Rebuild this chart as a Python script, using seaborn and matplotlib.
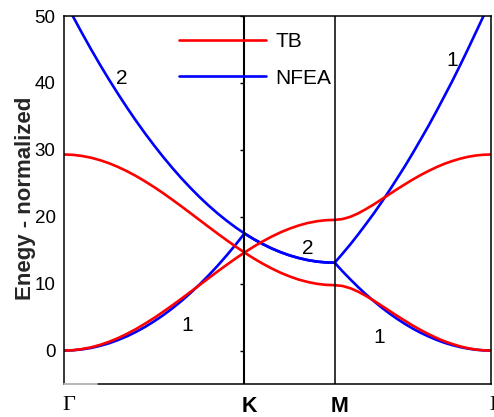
import numpy as np
import pandas as pd
import matplotlib
matplotlib.use("Agg")
import matplotlib.pyplot as plt
import seaborn as sns
from matplotlib.lines import Line2D
from matplotlib.transforms import ScaledTranslation

# path coordinate along G-K-M-G (G-K = 1)
k_path = [0.00, 0.05, 0.10, 0.15, 0.20, 0.25, 0.30, 0.35, 0.40, 0.45, 0.50,
          0.55, 0.60, 0.65, 0.70, 0.75, 0.80, 0.85, 0.90, 0.95, 1.00,
          1.05, 1.10, 1.15, 1.20, 1.25, 1.30, 1.35, 1.40, 1.45, 1.50,
          1.543, 1.587, 1.630, 1.673, 1.717, 1.760, 1.803, 1.846, 1.890, 1.933,
          1.976, 2.020, 2.063, 2.106, 2.150, 2.193, 2.236, 2.279, 2.323, 2.366]

tb_upper = [29.30, 29.25, 29.08, 28.82, 28.45, 27.99, 27.43, 26.79, 26.07, 25.27, 24.42,
            23.51, 22.55, 21.56, 20.55, 19.53, 18.51, 17.50, 16.52, 15.56, 14.65,
            15.51, 16.30, 17.02, 17.67, 18.22, 18.69, 19.06, 19.32, 19.48, 19.53,
            19.65, 19.99, 20.50, 21.14, 21.85, 22.60, 23.36, 24.12, 24.86, 25.57,
            26.23, 26.84, 27.40, 27.89, 28.31, 28.66, 28.94, 29.14, 29.26, 29.30]
tb_lower = [0.00, 0.05, 0.22, 0.48, 0.85, 1.31, 1.87, 2.51, 3.23, 4.03, 4.88,
            5.80, 6.75, 7.74, 8.75, 9.77, 10.79, 11.80, 12.78, 13.74, 14.65,
            13.79, 13.00, 12.28, 11.63, 11.08, 10.61, 10.25, 9.98, 9.82, 9.77,
            9.65, 9.31, 8.80, 8.17, 7.45, 6.70, 5.94, 5.18, 4.44, 3.73,
            3.07, 2.46, 1.90, 1.41, 0.99, 0.64, 0.36, 0.16, 0.04, 0.00]
nfea_band1 = [0.00, 0.04, 0.18, 0.39, 0.70, 1.09, 1.58, 2.14, 2.80, 3.54, 4.38,
              5.29, 6.30, 7.39, 8.58, 9.84, 11.20, 12.64, 14.18, 15.79, 17.50,
              16.67, 15.93, 15.27, 14.70, 14.22, 13.83, 13.52, 13.30, 13.17, 13.13,
              11.85, 10.63, 9.48, 8.40, 7.38, 6.43, 5.55, 4.73, 3.97, 3.28,
              2.66, 2.10, 1.61, 1.18, 0.82, 0.53, 0.30, 0.13, 0.03, 0.00]
nfea_band2 = [52.50, 49.92, 47.43, 45.02, 42.70, 40.47, 38.33, 36.27, 34.30, 32.42, 30.63,
              28.92, 27.30, 25.77, 24.33, 22.97, 21.70, 20.52, 19.43, 18.42, 17.50,
              16.67, 15.93, 15.27, 14.70, 14.22, 13.83, 13.52, 13.30, 13.17, 13.13,
              14.47, 15.88, 17.36, 18.90, 20.51, 22.18, 23.92, 25.73, 27.60, 29.53,
              31.53, 33.60, 35.73, 37.93, 40.20, 42.53, 44.92, 47.38, 49.91, 52.50]

sym_pos = [0.0, 1.0, 1.5, 2.366]
sym_labels = ["\u0393", "K", "M", "\u0393"]
y_ticks = [0, 10, 20, 30, 40, 50]

band_text = ["2", "1", "1", "2", "1"]
band_x = [0.32, 2.15, 0.68, 1.35, 1.745]
band_y = [40.7, 43.4, 3.7, 15.3, 1.9]

colors = {"TB": "#ff0000", "NFEA": "#0000ff"}

df = pd.concat([
    pd.DataFrame({"k": k_path, "E": tb_lower, "method": "TB", "band": "tb1"}),
    pd.DataFrame({"k": k_path, "E": tb_upper, "method": "TB", "band": "tb2"}),
    pd.DataFrame({"k": k_path, "E": nfea_band1, "method": "NFEA", "band": "nf1"}),
    pd.DataFrame({"k": k_path, "E": nfea_band2, "method": "NFEA", "band": "nf2"}),
], ignore_index=True)

sns.set_theme(style="white", rc={"axes.edgecolor": "black", "axes.linewidth": 1.1,
                                 "text.color": "black", "xtick.color": "black",
                                 "ytick.color": "black", "ytick.direction": "in"})
plt.rcParams["font.family"] = ["Liberation Sans", "DejaVu Sans"]

fig = plt.figure(figsize=(4.94, 4.17), dpi=100)
ax = fig.add_axes([64 / 494, 33 / 417, 427 / 494, 368 / 417])

# NFEA first so TB sits on top
for m in ["NFEA", "TB"]:
    sns.lineplot(data=df[df.method == m], x="k", y="E", units="band", estimator=None,
                 color=colors[m], lw=1.9, ax=ax, legend=False)

for xv, lw in zip(sym_pos[1:3], [1.5, 1.1]):
    ax.axvline(xv, color="black", lw=lw, zorder=4)

ax.set_xlim(sym_pos[0], sym_pos[-1])
ax.set_ylim(-5, 50)
ax.set_yticks(y_ticks)
ax.tick_params(axis="y", labelsize=13.5, length=3, width=1, pad=6, direction="in")
ax.set_xticks(sym_pos)
ax.set_xticklabels(sym_labels)
ax.tick_params(axis="x", length=0, pad=9)
shift = ScaledTranslation(5 / 100, 0, fig.dpi_scale_trans)
for lab in ax.get_xticklabels():
    if lab.get_text() == "\u0393":
        lab.set_fontfamily("Liberation Serif")
        lab.set_fontsize(16)
    else:
        lab.set_fontweight("bold")
        lab.set_fontsize(15.5)
    lab.set_transform(lab.get_transform() + shift)

ax.set_xlabel("")
ax.set_ylabel("Enegy - normalized", fontsize=16, fontweight="bold")
ax.yaxis.set_label_coords(-0.066, 0.505)

# ticks of the first panel on the K line
k_loc = (sym_pos[1] - sym_pos[0]) / (sym_pos[-1] - sym_pos[0])
sec = ax.secondary_yaxis(k_loc)
sec.set_yticks(y_ticks)
sec.tick_params(direction="out", length=3, width=1, labelleft=False)
sec.spines["left"].set_visible(False)

ax.axhline(-5, xmin=0, xmax=0.077, color="0.78", lw=1.3, zorder=5, clip_on=False)

for t, xv, yv in zip(band_text, band_x, band_y):
    ax.text(xv, yv, t, fontsize=15, ha="center", va="center")

handles = [Line2D([], [], color=colors[m], lw=1.9) for m in ["TB", "NFEA"]]
ax.legend(handles, ["TB", "NFEA"], loc="upper left", bbox_to_anchor=(0.269, 0.956),
          frameon=False, fontsize=15, handlelength=4.2, handletextpad=0.45,
          labelspacing=0.84, borderpad=0, borderaxespad=0)

fig.savefig("out.png", dpi=100)
